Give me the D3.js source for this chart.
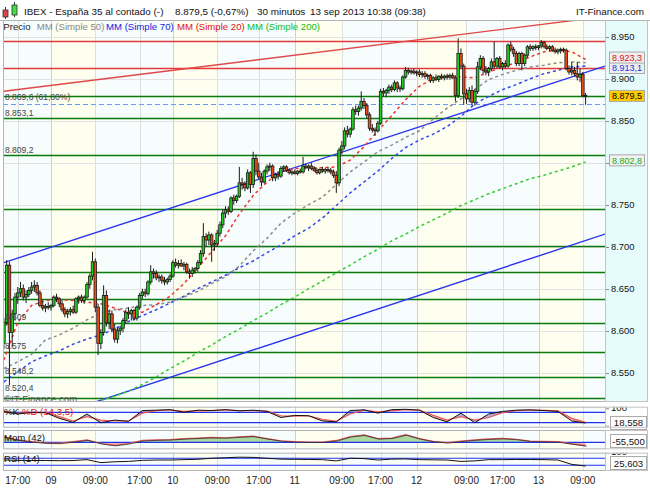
<!DOCTYPE html>
<html><head><meta charset="utf-8">
<script src="https://cdn.jsdelivr.net/npm/d3@7"></script>
<style>body{margin:0;background:#fff}svg{display:block;font-family:"Liberation Sans",Arial,sans-serif}</style>
</head><body><svg id="c" width="650" height="490"></svg>
<script>
// ---------- DATA ----------
const open=[8585,8610,8678,8598,8620,8640,8645,8650,8640,8643,
8648,8652,8654,8645,8630,8627,8629,8628,8630,8640,
8638,8632,8625,8620,8623,8625,8622,8638,8640,8636,
8640,8655,8665,8682,8628,8585,8598,8642,8610,8620,
8602,8590,8600,8603,8612,8622,8620,8624,8615,8628,
8642,8646,8644,8658,8670,8668,8663,8664,8660,8658,
8661,8665,8681,8678,8680,8677,8679,8670,8668,8672,
8674,8681,8692,8712,8708,8714,8702,8704,8716,8726,
8740,8744,8742,8758,8755,8760,8776,8774,8770,8788,
8774,8805,8790,8783,8777,8790,8795,8796,8782,8786,
8784,8793,8795,8791,8788,8789,8787,8790,8789,8796,
8794,8796,8793,8791,8788,8792,8790,8792,8791,8789,
8785,8776,8815,8820,8838,8834,8840,8863,8861,8865,
8873,8868,8857,8841,8839,8838,8847,8885,8883,8886,
8890,8887,8895,8889,8888,8902,8910,8908,8909,8907,
8908,8905,8906,8903,8904,8898,8901,8899,8903,8901,
8903,8902,8904,8901,8880,8930,8915,8882,8876,8886,
8872,8885,8914,8924,8910,8908,8912,8920,8915,8924,
8914,8918,8915,8940,8935,8930,8918,8930,8918,8928,
8938,8936,8938,8937,8939,8943,8938,8936,8938,8934,
8932,8934,8935,8934,8912,8908,8910,8906,8902,8905,8880];
const high=[8615,8684,8682,8625,8645,8652,8658,8655,8648,8652,
8658,8660,8658,8648,8636,8632,8634,8632,8642,8644,
8640,8636,8628,8626,8628,8630,8640,8642,8643,8642,
8658,8668,8694,8686,8632,8602,8654,8648,8625,8624,
8608,8604,8606,8615,8625,8628,8626,8626,8630,8645,
8650,8650,8660,8678,8674,8672,8667,8667,8664,8663,
8668,8684,8686,8684,8685,8682,8681,8674,8676,8676,
8684,8696,8728,8716,8718,8716,8708,8720,8730,8744,
8748,8748,8760,8762,8762,8795,8782,8778,8792,8790,
8813,8810,8800,8788,8792,8798,8800,8798,8788,8790,
8796,8797,8797,8793,8791,8792,8791,8793,8807,8799,
8798,8800,8796,8794,8793,8795,8794,8795,8794,8792,
8790,8818,8826,8842,8844,8842,8866,8868,8868,8885,
8877,8871,8860,8846,8842,8850,8888,8889,8888,8893,
8893,8898,8897,8892,8904,8914,8913,8911,8912,8910,
8911,8909,8909,8906,8906,8903,8905,8904,8906,8905,
8906,8906,8907,8904,8948,8936,8918,8888,8890,8892,
8888,8920,8928,8927,8915,8914,8924,8944,8926,8927,
8920,8922,8942,8944,8938,8933,8932,8932,8930,8940,
8941,8940,8941,8940,8946,8945,8941,8940,8940,8937,
8936,8937,8937,8936,8916,8920,8914,8920,8912,8908,8883];
const low=[8578,8606,8535,8580,8612,8632,8640,8636,8633,8640,
8644,8646,8642,8628,8624,8622,8625,8624,8628,8634,
8628,8622,8616,8615,8618,8620,8620,8632,8633,8632,
8638,8650,8660,8622,8571,8578,8594,8605,8602,8598,
8586,8585,8595,8598,8608,8614,8612,8612,8612,8625,
8638,8640,8642,8655,8662,8660,8658,8656,8654,8655,
8658,8663,8675,8674,8676,8672,8668,8662,8664,8668,
8670,8678,8688,8700,8702,8682,8695,8700,8712,8722,
8734,8738,8740,8750,8752,8758,8768,8766,8768,8764,
8770,8785,8780,8772,8775,8786,8790,8778,8778,8780,
8782,8789,8789,8786,8785,8786,8785,8787,8787,8792,
8790,8791,8789,8786,8786,8788,8787,8788,8786,8782,
8764,8772,8810,8816,8830,8830,8838,8857,8856,8862,
8864,8853,8838,8836,8832,8836,8845,8879,8878,8882,
8884,8885,8884,8884,8886,8900,8905,8905,8905,8903,
8902,8901,8900,8899,8895,8895,8897,8896,8899,8898,
8899,8899,8900,8873,8877,8912,8869,8870,8872,8868,
8868,8882,8910,8906,8904,8903,8909,8912,8912,8912,
8910,8912,8913,8932,8926,8915,8915,8910,8915,8925,
8933,8933,8934,8934,8936,8936,8934,8933,8932,8930,
8929,8930,8931,8910,8905,8904,8903,8898,8896,8878,8869];
const close=[8610,8678,8598,8620,8640,8645,8650,8640,8643,8648,
8652,8654,8645,8630,8627,8629,8628,8630,8640,8638,
8632,8625,8620,8623,8625,8622,8638,8640,8636,8640,
8655,8665,8682,8628,8585,8598,8642,8610,8620,8602,
8590,8600,8603,8612,8622,8620,8624,8615,8628,8642,
8646,8644,8658,8670,8668,8663,8664,8660,8658,8661,
8665,8681,8678,8680,8677,8679,8670,8668,8672,8674,
8681,8692,8712,8708,8714,8702,8704,8716,8726,8740,
8744,8742,8758,8755,8760,8776,8774,8770,8788,8774,
8805,8790,8783,8777,8790,8795,8796,8782,8786,8784,
8793,8795,8791,8788,8789,8787,8790,8789,8796,8794,
8796,8793,8791,8788,8792,8790,8792,8791,8789,8785,
8776,8815,8820,8838,8834,8840,8863,8861,8865,8873,
8868,8857,8841,8839,8838,8847,8885,8883,8886,8890,
8887,8895,8889,8888,8902,8910,8908,8909,8907,8908,
8905,8906,8903,8904,8898,8901,8899,8903,8901,8903,
8902,8904,8901,8880,8930,8915,8882,8876,8886,8872,
8885,8914,8924,8910,8908,8912,8920,8915,8924,8914,
8918,8915,8940,8935,8930,8918,8930,8918,8928,8938,
8936,8938,8937,8939,8943,8938,8936,8938,8934,8932,
8934,8935,8934,8912,8908,8910,8906,8902,8905,8880,8879.5];

// sampled indicator series (bar index of each sample)
const sIdx=[0,5,10,15,20,25,30,35,40,45,50,55,60,65,70,75,80,85,90,95,100,105,110,115,120,125,130,135,140,145,150,155,160,165,170,175,180,185,190,195,200,205,210];
const ma20=[8565,8610,8630,8636,8637,8636,8634,8632,8627,8621,8622,8631,8641,8656,8675,8694,8713,8739,8761,8777,8789,8793,8794,8794,8795,8803,8819,8838,8856,8875,8891,8900,8903,8902,8901,8908,8914,8919,8926,8932,8934,8932,8923];
const ma50=[8555,8563,8572,8589,8595,8603,8613,8621,8625,8627,8630,8631,8634,8640,8647,8656,8664,8677,8695,8710,8728,8740,8750,8759,8774,8789,8801,8813,8821,8830,8838,8852,8865,8876,8887,8899,8905,8910,8914,8916,8919,8920,8919];
const ma70=[8539,8551,8563,8570,8576,8584,8590,8595,8602,8611,8618,8625,8633,8641,8650,8658,8666,8675,8683,8693,8702,8713,8722,8734,8749,8764,8777,8790,8805,8818,8827,8834,8843,8855,8870,8879,8887,8893,8900,8906,8910,8914,8915];
const ma200=[null,null,null,null,null,null,null,8517,8522,8528,8536,8545,8555,8564,8574,8583,8593,8602,8612,8621,8631,8640,8650,8659,8669,8678,8688,8697,8707,8715,8724,8732,8740,8749,8756,8763,8769,8775,8781,8785,8790,8795,8801];
const stochK=[85,70,80,78,45,22,70,20,35,28,90,92,95,80,92,90,95,88,92,85,50,62,60,30,25,90,94,75,95,97,92,50,25,75,20,70,85,92,94,90,85,30,18.558];
const stochD=[80,75,76,79,55,30,55,35,30,30,75,90,93,85,88,90,93,90,90,87,60,58,60,40,28,70,92,82,88,95,93,62,35,55,35,50,78,90,93,91,88,45,22];
const mom=[90,40,10,-10,-15,10,40,-20,-50,-20,30,40,45,60,70,80,75,90,100,60,25,10,5,5,30,95,120,60,70,125,60,15,-5,20,40,55,65,50,20,15,10,-25,-55.5];
const rsi=[60,58,57,57,56,57,62,45,50,52,58,60,60,62,64,70,73,76,75,70,65,64,63,62,55,70,68,60,65,66,62,61,60,52,55,62,62,63,63,62,60,35,25.603];

// axes / labels
const priceTicks=[8550,8600,8650,8700,8750,8800,8850,8900,8950];
const priceTickLabels=["8.550","8.600","8.650","8.700","8.750","8.800","8.850","8.900","8.950"];
const timeTickIdx=[5,17,33,49,61,77,92,105,122,136,149,167,180,193,209];
const timeTickLabels=["17:00","09","09:00","17:00","10","09:00","17:00","11","09:00","17:00","12","09:00","17:00","13","09:00"];
const dayStartIdx=[17,61,105,149,193];
const preOpenEndIdx=[33,77,122,167,209];
// horizontal levels
const greenLevels=[8880,8853.1,8809.2,8744.5,8701.4,8669.5,8637.5,8609,8575,8545,8520.4];
const redLevels=[8944.9,8912.4];
const fibLevel=8869.6;
const levelLabels=[{v:8869.6,t:"8.869,6 (61,80%)",dy:-4},{v:8853.1,t:"8.853,1",dy:-2},{v:8809.2,t:"8.809,2",dy:-2},
 {v:8609,t:"8.609",dy:-3},{v:8575,t:"8.575",dy:-3},{v:8545,t:"8.548,2",dy:-3},{v:8520.4,t:"8.520,4",dy:-7}];
// trend lines [index, price]
const trendRed=[[0,8885],[217,8974]];
const trendBlueUp=[[0,8681],[217,8915]];
const trendBlueLow=[[32,8514],[217,8715]];
// last values
const boxes=[{v:8913.1,t:"8.913,1",c:"#2233dd",bg:"#eeeeee",dy:0.3},{v:8923.3,t:"8.923,3",c:"#dd1111",bg:"#eeeeee",dy:-1.6},
 {v:8879.5,t:"8.879,5",c:"#000",bg:"#ffcc00",dy:0},{v:8802.8,t:"8.802,8",c:"#11aa11",bg:"#f2f2f2",dy:0}];

// ---------- LAYOUT ----------
const svg=d3.select('#c');
const X0=3,X1=605,XR=648;
const P={main:[20,401],st:[406.7,426.7],mo:[430,448.3],rs:[452.7,470]};
const x=d3.scaleLinear().domain([0,210]).range([3.9,585.6]);
const y=d3.scaleLinear().domain([8550,8950]).range([372.7,36.7]);
const ySt=d3.scaleLinear().domain([0,100]).range([426.2,408.8]);
const yMo=d3.scaleLinear().domain([-100,100]).range([448.4,436.2]);
const yRs=d3.scaleLinear().domain([0,100]).range([470.5,453]);

const defs=svg.append('defs');
Object.entries(P).forEach(([k,[t,b]])=>{
  defs.append('clipPath').attr('id','clip_'+k).append('rect').attr('x',X0).attr('y',t).attr('width',X1-X0).attr('height',b-t);
  defs.append('clipPath').attr('id','clipR_'+k).append('rect').attr('x',X1).attr('y',t).attr('width',XR-X1).attr('height',b-t);
});

svg.append('rect').attr('width',650).attr('height',490).attr('fill','#fff');

// panel backgrounds
Object.entries(P).forEach(([k,[t,b]])=>{
  const g=svg.append('g');
  g.append('rect').attr('x',X0).attr('y',t).attr('width',X1-X0).attr('height',b-t).attr('fill','#f7fcfd');
  dayStartIdx.forEach((d,i)=>{
    g.append('rect').attr('x',x(d)).attr('y',t).attr('width',x(preOpenEndIdx[i])-x(d)).attr('height',b-t).attr('fill','#fffff0');
  });
  timeTickIdx.forEach((d,i)=>{
    const isDay=dayStartIdx.includes(d);
    g.append('line').attr('x1',Math.round(x(d))+0.5).attr('x2',Math.round(x(d))+0.5).attr('y1',t).attr('y2',b)
      .attr('stroke',isDay?'#cfcfcf':'#dedede').attr('stroke-width',1);
  });
});
// right axis background main
svg.append('rect').attr('x',X1).attr('y',P.main[0]).attr('width',XR-X1).attr('height',P.main[1]-P.main[0]).attr('fill','#e6fcfc');

// price grid
const gm=svg.append('g').attr('clip-path','url(#clip_main)');
priceTicks.forEach(v=>{
  gm.append('line').attr('x1',X0).attr('x2',X1).attr('y1',Math.round(y(v))+0.5).attr('y2',Math.round(y(v))+0.5)
   .attr('stroke','#e2e2e2');
});

// horizontal levels
greenLevels.forEach(v=>{
  gm.append('line').attr('x1',X0).attr('x2',X1).attr('y1',Math.round(y(v))+0.5).attr('y2',Math.round(y(v))+0.5)
   .attr('stroke','#0a7a0a').attr('stroke-width',1.3);
});
redLevels.forEach(v=>{
  gm.append('line').attr('x1',X0).attr('x2',X1).attr('y1',Math.round(y(v))+0.5).attr('y2',Math.round(y(v))+0.5)
   .attr('stroke','#e03a3a').attr('stroke-width',1.3);
});
gm.append('line').attr('x1',X0).attr('x2',X1).attr('y1',Math.round(y(fibLevel))+0.5).attr('y2',Math.round(y(fibLevel))+0.5)
  .attr('stroke','#6b9cf0').attr('stroke-width',1.2).attr('stroke-dasharray','5,3');

// trend lines
const tl=(pts,c)=>gm.append('line').attr('x1',x(pts[0][0])).attr('y1',y(pts[0][1])).attr('x2',x(pts[1][0])).attr('y2',y(pts[1][1]))
  .attr('stroke',c).attr('stroke-width',1.4);
tl(trendRed,'#e04848');
tl(trendBlueUp,'#2b35f0');
tl(trendBlueLow,'#2b35f0');

// moving averages
const maLine=(arr,c)=>{
  const line=d3.line().defined(d=>d[1]!=null).x(d=>x(d[0])).y(d=>y(d[1]));
  gm.append('path').attr('d',line(sIdx.map((s,i)=>[s,arr[i]]))).attr('fill','none')
    .attr('stroke',c).attr('stroke-width',1.5).attr('stroke-dasharray','3,3');
};
maLine(ma200,'#33cc33');
maLine(ma70,'#3344ee');
maLine(ma50,'#8c8c8c');
maLine(ma20,'#ee3333');

// candles
const gc=gm.append('g');
close.forEach((c,i)=>{
  const o=open[i],cx=x(i);
  gc.append('line').attr('x1',cx).attr('x2',cx).attr('y1',y(high[i])).attr('y2',y(low[i])).attr('stroke','#1a1a1a').attr('stroke-width',1);
  const top=y(Math.max(o,c)),bot=y(Math.min(o,c));
  gc.append('rect').attr('x',cx-1.3).attr('y',top).attr('width',2.6).attr('height',Math.max(1,bot-top))
    .attr('fill',c>=o?'#22cc22':'#ee4a18').attr('stroke','#1a1a1a').attr('stroke-width',0.8);
});

// level labels
levelLabels.forEach(l=>{
  gm.append('text').attr('x',5).attr('y',y(l.v)+l.dy).attr('font-size',8.5).attr('fill','#444').text(l.t);
});
gm.append('text').attr('x',4).attr('y',401.5).attr('font-size',9.6).attr('fill','#555').text('©IT-Finance.com');

// legend
const leg=[["Precio",3.3,"#222"],["MM (Simple 50)",36.7,"#888"],["MM (Simple 70)",106,"#1122dd"],["MM (Simple 20)",177,"#dd1111"],["MM (Simple 200)",247,"#11bb11"]];
leg.forEach(l=>svg.append('text').attr('x',l[1]).attr('y',29.5).attr('font-size',9.6).attr('fill',l[2]).text(l[0]));

// price axis labels (labels hidden behind a value box are not drawn, as in the original)
priceTicks.forEach((v,i)=>{
  svg.append('line').attr('x1',X1).attr('x2',X1+4).attr('y1',Math.round(y(v))+0.5).attr('y2',Math.round(y(v))+0.5).attr('stroke','#888');
  const hidden=boxes.some(b=>Math.abs(y(b.v)+b.dy-y(v))<9);
  if(!hidden) svg.append('text').attr('x',611).attr('y',y(v)+3.3).attr('font-size',9.4).attr('fill','#111').text(priceTickLabels[i]);
});
// value boxes
boxes.forEach(b=>{
  const cy=y(b.v)+b.dy;
  svg.append('rect').attr('x',609.5).attr('y',cy-5.5).attr('width',35).attr('height',11).attr('fill',b.bg).attr('stroke','#aaa');
  svg.append('text').attr('x',627).attr('y',cy+3.2).attr('text-anchor','middle').attr('font-size',9).attr('fill',b.c).text(b.t);
});

// ---------- INDICATORS ----------
// stochastic
const gs=svg.append('g').attr('clip-path','url(#clip_st)');
for(let k=0;k<sIdx.length-1;k++){
  const x0=x(sIdx[k]),x1=x(sIdx[k+1]);
  const up=(stochK[k]+stochK[k+1])>=(stochD[k]+stochD[k+1]);
  gs.append('polygon').attr('points',[[x0,ySt(stochK[k])],[x1,ySt(stochK[k+1])],[x1,ySt(stochD[k+1])],[x0,ySt(stochD[k])]].join(' '))
    .attr('fill',up?'#aab3de':'#f2b8b8');
}
[80,20].forEach(v=>gs.append('line').attr('x1',X0).attr('x2',X1).attr('y1',ySt(v)).attr('y2',ySt(v)).attr('stroke','#2233ee').attr('stroke-width',1.2));
const lSt=d3.line().x((d,i)=>x(sIdx[i])).y(d=>ySt(d));
gs.append('path').attr('d',lSt(stochD)).attr('fill','none').attr('stroke','#ee5555').attr('stroke-width',1.2);
gs.append('path').attr('d',lSt(stochK)).attr('fill','none').attr('stroke','#111').attr('stroke-width',1);
svg.append('text').attr('x',4).attr('y',414.5).attr('font-size',9.6).attr('fill','#111').text('%K');
svg.append('text').attr('x',22).attr('y',414.5).attr('font-size',9.6).attr('fill','#dd2222').text('%D (14,3,5)');

// momentum
const gmo=svg.append('g').attr('clip-path','url(#clip_mo)');
defs.append('clipPath').attr('id','moUp').append('rect').attr('x',X0).attr('y',P.mo[0]).attr('width',X1-X0).attr('height',yMo(0)-P.mo[0]);
defs.append('clipPath').attr('id','moDn').append('rect').attr('x',X0).attr('y',yMo(0)).attr('width',X1-X0).attr('height',P.mo[1]-yMo(0));
const aMo=d3.area().x((d,i)=>x(sIdx[i])).y0(yMo(0)).y1(d=>yMo(d));
gmo.append('g').attr('clip-path','url(#moUp)').append('path').attr('d',aMo(mom)).attr('fill','#a9d9a0');
gmo.append('g').attr('clip-path','url(#moDn)').append('path').attr('d',aMo(mom)).attr('fill','#f0b0b0');
gmo.append('line').attr('x1',X0).attr('x2',X1).attr('y1',yMo(0)).attr('y2',yMo(0)).attr('stroke','#2233ee').attr('stroke-width',1.2);
const lMo=d3.line().x((d,i)=>x(sIdx[i])).y(d=>yMo(d));
gmo.append('path').attr('d',lMo(mom)).attr('fill','none').attr('stroke','#e05a5a').attr('stroke-width',1.2);
gmo.append('path').attr('d',lMo(mom)).attr('fill','none').attr('stroke','#222').attr('stroke-width',0.7).attr('transform','translate(1,0.5)');
svg.append('text').attr('x',4).attr('y',440.5).attr('font-size',9.6).attr('fill','#111').text('Mom (42)');

// RSI
const gr=svg.append('g').attr('clip-path','url(#clip_rs)');
[70,30].forEach(v=>gr.append('line').attr('x1',X0).attr('x2',X1).attr('y1',yRs(v)).attr('y2',yRs(v)).attr('stroke','#2233ee').attr('stroke-width',1.2));
const lRs=d3.line().x((d,i)=>x(sIdx[i])).y(d=>yRs(d));
gr.append('path').attr('d',lRs(rsi)).attr('fill','none').attr('stroke','#111').attr('stroke-width',1);
svg.append('text').attr('x',4).attr('y',461.5).attr('font-size',9.6).attr('fill','#111').text('RSI (14)');

// indicator right axis labels and value boxes
[['st',ySt],['rs',yRs]].forEach(([k,sc])=>{
  const g=svg.append('g').attr('clip-path','url(#clipR_'+k+')');
  g.append('text').attr('x',611).attr('y',sc(100)+2).attr('font-size',9.6).attr('fill','#111').text('100');
  g.append('line').attr('x1',X1).attr('x2',X1+4).attr('y1',sc(0)).attr('y2',sc(0)).attr('stroke','#888');
  g.append('line').attr('x1',X1).attr('x2',X1+4).attr('y1',sc(100)).attr('y2',sc(100)).attr('stroke','#888');
});
const indBoxes=[{cy:ySt(stochK[42]),t:"18,558"},{cy:441,t:"-55,500"},{cy:yRs(rsi[42])-3,t:"25,603"}];
indBoxes.forEach(b=>{
  svg.append('rect').attr('x',610.5).attr('y',b.cy-6.5).attr('width',36).attr('height',13).attr('fill','#fff').attr('stroke','#aaa');
  svg.append('text').attr('x',628.5).attr('y',b.cy+3.5).attr('text-anchor','middle').attr('font-size',9.6).attr('fill','#111').text(b.t);
});

// borders
Object.values(P).forEach(([t,b])=>{
  svg.append('rect').attr('x',X0+0.5).attr('y',t+0.5).attr('width',X1-X0).attr('height',b-t).attr('fill','none').attr('stroke','#b4b4b4');
  svg.append('rect').attr('x',X1+0.5).attr('y',t+0.5).attr('width',XR-X1-1).attr('height',b-t).attr('fill','none').attr('stroke','#c4c4c4');
});
svg.append('line').attr('x1',0).attr('x2',650).attr('y1',20.5).attr('y2',20.5).attr('stroke','#b4b4b4');

// time axis labels
timeTickIdx.forEach((d,i)=>{
  svg.append('text').attr('x',x(d)).attr('y',484).attr('text-anchor','middle').attr('font-size',10).attr('fill','#222').text(timeTickLabels[i]);
});

// header
const hi=svg.append('g');
hi.append('line').attr('x1',5.5).attr('x2',5.5).attr('y1',7).attr('y2',19).attr('stroke','#333');
hi.append('rect').attr('x',3).attr('y',10).attr('width',5).attr('height',7).attr('fill','#dd4444').attr('stroke','#333').attr('stroke-width',0.8);
hi.append('line').attr('x1',14.5).attr('x2',14.5).attr('y1',2).attr('y2',17).attr('stroke','#333');
hi.append('rect').attr('x',12).attr('y',5).attr('width',5).attr('height',10).attr('fill','#44dd44').attr('stroke','#333').attr('stroke-width',0.8);
const hd=[["IBEX - España 35 al contado (-)",24],["8.879,5 (-0,67%)",175],["30 minutos",257],["13 sep 2013 10:38 (09:38)",310]];
hd.forEach(h=>svg.append('text').attr('x',h[1]).attr('y',14.5).attr('font-size',9.9).attr('fill','#111').text(h[0]));
svg.append('text').attr('x',644).attr('y',14.5).attr('text-anchor','end').attr('font-size',9.9).attr('fill','#111').text('IT-Finance.com');
</script></body></html>
